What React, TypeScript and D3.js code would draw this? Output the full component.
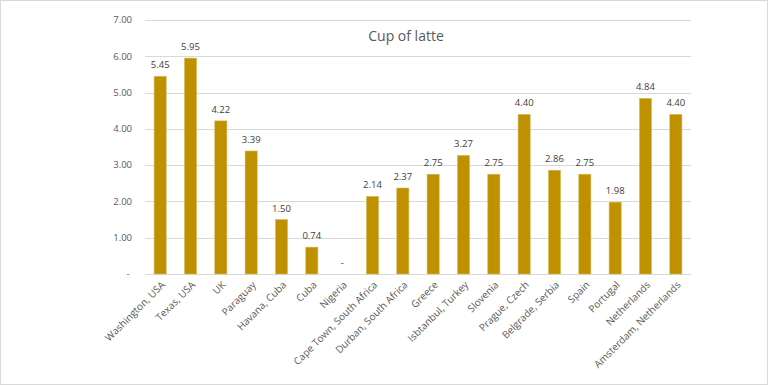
import React, { useEffect } from 'react';
import * as d3 from 'd3';

const categories = [
  'Washington, USA', 'Texas, USA', 'UK', 'Paraguay', 'Havana, Cuba', 'Cuba', 'Nigeria',
  'Cape Town, South Africa', 'Durban, South Africa', 'Greece', 'Isbtanbul, Turkey', 'Slovenia',
  'Prague, Czech', 'Belgrade, Serbia', 'Spain', 'Portugal', 'Netherlands', 'Amsterdam, Netherlands',
];
const prices = [5.45, 5.95, 4.22, 3.39, 1.5, 0.74, 0, 2.14, 2.37, 2.75, 3.27, 2.75, 4.4, 2.86, 2.75, 1.98, 4.84, 4.4];
const yTicks = [0, 1, 2, 3, 4, 5, 6, 7];
const title = 'Cup of latte';

const W = 768;
const H = 385;
const margin = { top: 20, right: 77, bottom: 111, left: 145 };
const font = '"Open Sans", "Noto Sans", sans-serif';
const textColor = '#595959';

const fmt = (v: number) => (v === 0 ? '-' : v.toFixed(2));

export default function App() {
  useEffect(() => {
    document.body.style.margin = '0';
  }, []);

  const x = d3.scaleBand<string>()
    .domain(categories)
    .range([margin.left, W - margin.right])
    .paddingInner(0.6)
    .paddingOuter(0.3);

  const y = d3.scaleLinear()
    .domain([0, 7])
    .range([H - margin.bottom, margin.top]);

  return (
    <svg width={W} height={H} style={{ display: 'block', fontFamily: font }}>
      <rect x={0.5} y={0.5} width={W - 1} height={H - 1} fill="#fff" stroke="#D9D9D9" />
      <text x={406} y={41} textAnchor="middle" fontSize={14} fill={textColor}>{title}</text>

      {/* grid lines */}
      {yTicks.map(t => (
        <line key={t} x1={margin.left} x2={W - margin.right} y1={Math.round(y(t)) + 0.5} y2={Math.round(y(t)) + 0.5}
          stroke="#D9D9D9" strokeWidth={1} />
      ))}
      {yTicks.map(t => (
        <text key={'l' + t} x={t === 0 ? 128 : 132} y={y(t)} dy="0.35em" textAnchor={t === 0 ? 'middle' : 'end'}
          fontSize={9.5} fill={textColor}>{fmt(t)}</text>
      ))}

      {/* bars */}
      {categories.map((c, i) => (
        <rect key={c} x={x(c)!} y={y(prices[i])} width={x.bandwidth()} height={y(0) - y(prices[i])}
          fill="#BF9000" stroke="#D8BC5E" strokeWidth={prices[i] > 0 ? 0.6 : 0} />
      ))}

      {/* data labels */}
      {categories.map((c, i) => (
        <text key={'d' + c} x={x(c)! + x.bandwidth() / 2} y={y(prices[i]) - 8} textAnchor="middle"
          fontSize={9.5} fill="#404040">{fmt(prices[i])}</text>
      ))}

      {/* category labels */}
      {categories.map(c => {
        const cx = x(c)! + x.bandwidth() / 2 + 3;
        const cy = y(0) + 9;
        return (
          <text key={'c' + c} transform={`translate(${cx},${cy}) rotate(-45)`} textAnchor="end" dy="0.35em"
            fontSize={10} fill={textColor}>{c}</text>
        );
      })}
    </svg>
  );
}
